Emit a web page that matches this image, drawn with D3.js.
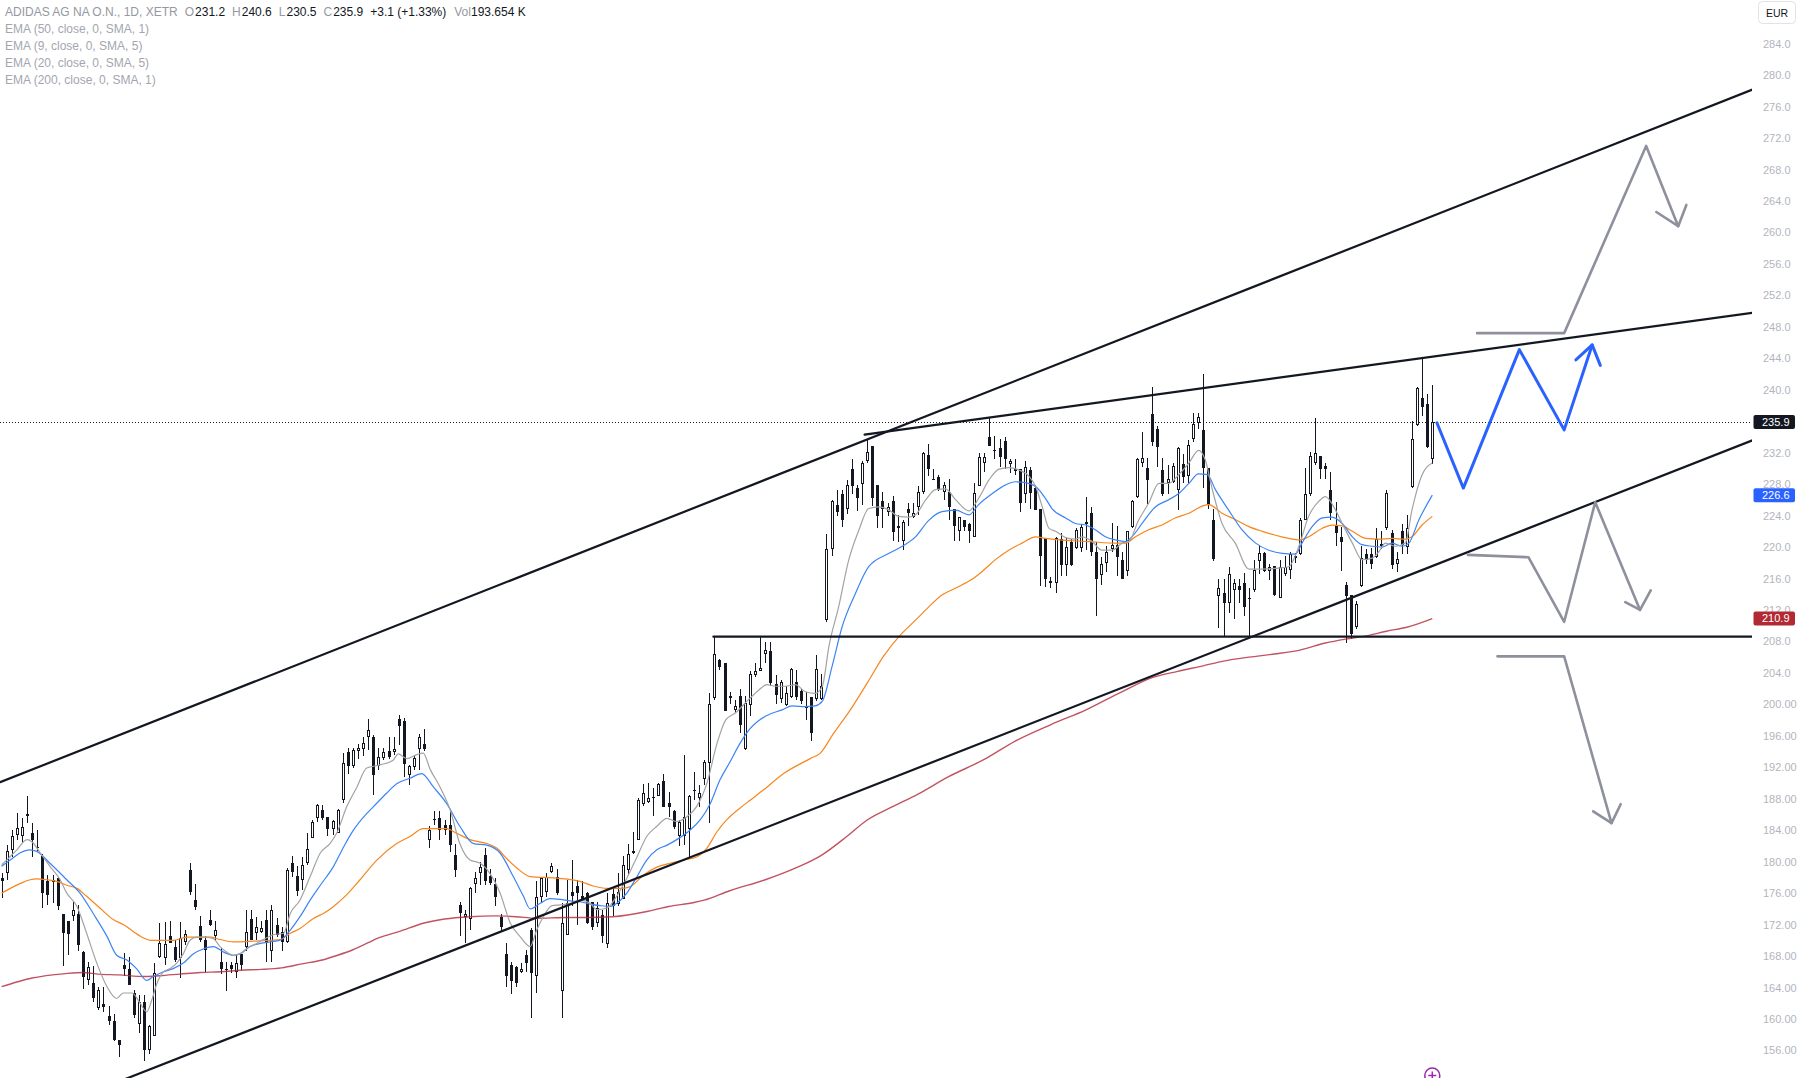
<!DOCTYPE html>
<html><head><meta charset="utf-8">
<script src="https://cdn.jsdelivr.net/npm/d3@7"></script>
<style>
html,body{margin:0;padding:0;background:#fff;}
svg{display:block;}
text{font-family:"Liberation Sans",Arial,sans-serif;}
</style></head><body>
<svg id="chart" width="1802" height="1078"></svg>
<script>
// ---------- DATA ----------
// daily candles: [open, high, low, close]
const candles = [
[177.9,178.6,175.4,177.6],[178.5,182.1,177.7,181.3],[181.5,184.0,180.6,183.3],[183.4,186.2,182.8,184.3],[183.2,185.5,182.5,184.4],
[186.0,188.3,184.9,185.8],[183.7,184.9,180.6,182.7],[181.9,184.0,181.3,181.8],[180.7,181.0,174.1,176.0],[177.5,178.3,174.5,175.8],
[177.4,178.3,174.7,177.7],[177.9,178.0,173.9,174.3],[173.3,173.4,166.7,170.9],[172.4,172.5,168.1,170.8],[173.1,174.9,172.4,173.9],
[173.4,174.5,168.6,169.4],[168.5,168.6,163.8,165.3],[165.0,167.3,164.3,166.6],[164.6,166.7,162.2,162.6],[161.4,164.1,161.2,163.7],
[161.9,164.1,160.9,161.5],[160.4,161.6,159.2,159.7],[159.8,160.6,157.2,157.3],[157.3,157.3,155.1,156.7],[166.9,168.4,165.4,166.4],
[166.4,167.9,164.3,164.3],[163.3,163.7,160.1,160.5],[159.4,163.0,158.2,162.1],[162.2,163.0,154.6,156.1],[156.1,159.2,155.6,159.1],
[157.8,167.1,157.8,165.9],[167.9,172.2,167.7,169.7],[167.7,172.3,166.9,169.5],[170.5,172.4,169.6,169.7],[169.2,170.1,167.3,167.5],
[167.8,172.3,165.2,170.3],[169.8,171.3,169.4,170.8],[178.9,179.8,175.8,176.1],[175.1,177.1,173.9,174.2],[171.8,173.1,169.8,170.0],
[170.0,170.5,166.0,168.8],[172.6,173.9,171.8,171.9],[170.5,172.5,170.1,171.3],[167.2,169.0,165.7,166.3],[166.3,167.3,163.5,166.2],
[166.9,167.3,165.8,166.3],[166.0,168.3,165.2,167.1],[168.2,168.2,166.2,166.9],[169.2,173.9,168.6,171.1],[172.7,173.8,170.0,170.1],
[170.9,173.0,170.0,171.7],[171.1,172.5,170.9,171.6],[172.6,173.9,167.3,169.6],[168.6,174.5,167.3,173.8],[172.0,172.8,170.4,170.7],
[171.0,171.7,168.6,169.8],[169.8,179.2,169.6,178.9],[179.8,180.7,178.1,178.7],[178.2,179.4,175.6,176.3],[177.7,180.6,176.4,179.6],
[179.8,183.6,179.6,181.6],[183.0,185.3,183.0,185.0],[185.6,187.3,185.1,187.2],[186.6,187.2,185.3,185.6],[185.7,185.7,183.3,184.2],
[184.2,185.3,183.4,185.2],[183.7,186.7,183.6,186.6],[187.8,193.8,187.4,192.6],[193.9,194.4,191.1,192.1],[192.2,194.5,191.9,194.2],
[194.1,195.0,193.0,194.5],[194.3,195.8,193.4,195.1],[195.8,198.2,194.2,196.8],[195.8,196.1,188.5,191.0],[192.2,194.4,191.7,193.3],
[193.2,194.4,192.9,193.9],[194.1,195.9,193.1,193.3],[193.9,195.9,193.6,194.3],[198.2,198.6,194.8,197.2],[197.9,198.3,190.8,192.4],
[191.0,192.3,189.8,192.1],[192.0,193.6,191.7,193.2],[194.3,196.2,191.7,195.8],[195.0,196.9,194.1,194.3],[182.8,184.5,181.7,184.0],
[185.4,186.4,184.7,185.3],[185.5,186.4,182.8,184.0],[184.7,185.3,183.4,184.0],[184.7,186.4,181.2,182.1],[180.8,182.3,178.0,179.0],
[174.5,174.9,170.5,173.5],[173.0,173.9,169.6,173.3],[172.7,176.8,171.3,176.6],[177.1,178.7,176.0,177.9],[178.5,180.0,177.0,179.3],
[180.8,181.7,177.0,177.5],[178.2,179.1,177.0,177.3],[177.2,177.9,174.4,175.5],[173.0,173.4,171.1,171.7],[168.3,169.6,164.0,165.4],
[166.9,167.3,163.2,164.8],[166.6,166.7,164.0,164.6],[166.0,167.1,165.8,166.4],[168.1,168.8,166.0,167.1],[171.3,171.5,160.1,165.9],
[165.4,177.5,163.3,175.5],[175.5,178.1,174.7,177.9],[176.2,178.5,175.5,178.0],[178.7,179.8,178.5,179.5],[178.0,179.1,175.8,176.0],
[163.5,174.7,160.1,172.2],[170.7,177.7,170.7,174.8],[176.1,180.2,174.3,175.6],[176.9,177.7,171.9,176.0],[175.6,177.6,175.0,175.2],
[176.0,176.1,172.1,172.2],[174.9,174.9,171.3,171.7],[172.2,174.9,171.7,174.1],[173.2,173.9,169.6,170.5],[169.5,176.0,169.0,174.7],
[175.9,176.7,173.1,174.3],[174.6,178.5,174.4,176.2],[175.3,180.7,175.2,179.6],[179.0,182.3,178.3,181.0],[181.1,183.8,181.0,181.4],
[182.8,188.1,182.8,187.8],[187.3,189.9,187.1,188.7],[187.6,190.0,187.4,188.1],[188.2,189.4,185.8,188.1],[188.4,190.0,188.3,189.9],
[190.3,191.2,186.9,186.9],[187.5,188.9,185.7,186.9],[186.4,186.6,184.2,184.4],[183.2,185.3,182.0,185.0],[183.3,193.6,182.1,185.7],
[184.2,188.5,180.6,188.3],[189.1,191.4,187.8,189.0],[188.1,189.7,187.0,188.7],[190.5,192.9,189.7,192.7],[192.6,201.4,184.9,200.0],
[200.8,208.7,200.5,206.4],[205.7,205.8,204.4,204.8],[205.2,205.2,199.1,199.1],[201.1,201.6,200.1,200.8],[199.3,200.6,198.9,199.8],
[201.1,201.9,196.4,197.4],[194.3,201.0,194.2,200.2],[199.9,204.2,198.5,203.9],[203.7,205.3,203.5,204.3],[204.3,208.6,204.3,204.6],
[206.4,207.9,205.2,206.9],[206.8,207.9,202.3,202.7],[202.6,203.7,200.1,201.2],[200.7,203.1,200.2,202.9],[199.9,202.3,199.8,201.5],
[200.9,204.6,200.8,204.5],[202.9,204.4,200.6,200.9],[201.7,201.9,200.1,200.4],[199.7,201.6,198.0,199.5],[200.9,200.9,195.4,196.3],
[200.7,206.3,200.4,204.5],[200.7,203.9,200.6,202.3],[210.7,221.7,210.5,219.8],[219.8,226.0,218.9,225.8],[225.4,227.3,223.9,224.5],
[226.8,227.3,222.6,223.5],[224.9,228.5,224.2,227.9],[229.9,231.2,226.8,227.7],[227.5,227.9,224.6,226.3],[228.0,230.9,225.4,230.7],
[231.0,233.8,230.7,232.1],[232.8,232.9,225.2,226.3],[227.9,227.9,222.4,223.9],[225.9,227.0,222.4,224.9],[224.5,225.6,223.9,225.1],
[225.9,226.5,220.8,221.9],[222.7,224.1,220.7,222.4],[220.8,223.4,219.6,223.2],[224.9,225.6,222.7,224.3],[223.8,225.6,223.7,224.3],
[225.1,227.8,224.1,227.0],[227.0,232.1,226.8,232.0],[231.7,233.1,229.0,229.9],[228.7,229.9,228.5,228.6],[228.9,229.2,227.1,227.3],
[227.0,228.3,226.0,227.9],[227.0,228.7,223.5,225.1],[224.9,224.9,220.8,222.7],[222.0,223.8,220.8,223.8],[223.5,223.5,222.0,222.6],
[222.9,223.0,220.5,222.1],[221.3,228.2,221.3,226.9],[227.8,231.9,227.7,231.4],[230.7,232.0,229.6,231.4],[234.0,236.4,232.8,232.8],
[232.4,234.1,231.2,232.3],[232.6,233.8,230.2,231.5],[233.5,234.0,229.9,231.2],[230.6,231.2,229.4,230.9],[229.9,231.2,229.2,229.7],
[229.9,229.9,224.4,225.6],[226.8,230.9,225.6,230.2],[229.8,230.2,224.8,226.9],[227.5,227.9,224.7,224.7],[224.8,224.8,215.1,218.9],
[221.1,221.1,214.9,215.9],[215.7,216.2,214.8,215.4],[215.4,221.3,214.2,221.1],[221.0,221.8,216.3,217.7],[217.7,221.2,216.3,220.0],
[220.7,221.0,217.6,217.7],[219.9,222.4,219.7,222.2],[219.9,222.9,219.4,222.5],[223.2,226.4,219.6,222.9],[224.3,225.1,218.8,219.4],
[219.4,220.7,211.2,215.9],[216.5,218.7,215.2,217.9],[218.0,220.1,216.8,219.4],[219.8,223.0,219.4,220.3],[220.3,222.7,216.3,218.7],
[218.4,219.4,215.9,216.0],[216.9,222.0,216.3,222.0],[222.6,226.0,222.4,225.8],[226.4,231.3,226.3,231.2],[230.7,234.6,230.2,231.3],
[230.0,231.3,225.5,228.5],[236.9,240.4,232.8,233.4],[235.0,235.4,230.2,232.7],[229.8,231.3,226.5,226.8],[228.2,230.4,226.8,228.6],
[228.3,230.7,228.1,230.3],[227.3,232.7,224.7,232.6],[230.6,231.8,228.2,228.9],[229.0,233.6,228.1,233.0],[233.7,237.1,233.4,235.7],
[235.8,237.1,235.0,236.5],[234.9,242.0,227.5,230.0],[230.0,230.0,224.8,225.4],[223.5,224.9,218.2,218.5],[213.8,215.9,209.7,214.8],
[214.1,215.9,208.6,212.9],[212.9,217.4,211.6,216.6],[214.6,216.0,210.8,215.4],[215.1,216.0,212.9,214.6],[215.4,216.7,211.2,212.4],
[213.5,214.8,208.7,213.4],[214.6,218.4,214.3,217.1],[218.2,220.3,216.6,219.3],[219.3,219.4,216.8,216.9],[217.0,217.9,215.8,217.4],
[217.6,217.6,213.8,213.9],[213.5,218.3,213.5,217.5],[216.6,218.8,216.3,217.4],[217.1,219.4,215.9,219.1],[218.6,219.3,218.0,218.9],
[219.1,223.7,219.0,223.5],[223.5,230.0,223.4,226.8],[226.8,232.1,226.5,231.6],[230.7,236.4,230.4,231.9],[231.6,231.6,228.7,229.9],
[230.3,230.7,228.7,229.9],[227.3,229.5,223.5,224.3],[222.8,225.7,220.1,221.8],[221.3,222.6,217.0,220.6],[215.2,215.6,207.8,213.8],
[213.9,213.9,208.3,208.9],[209.8,213.1,209.6,212.8],[215.1,220.1,214.9,218.6],[219.1,219.7,217.9,218.3],[219.1,219.9,217.2,217.9],
[218.7,222.4,218.6,221.0],[220.4,222.0,219.7,220.1],[222.4,227.3,222.2,226.9],[221.8,222.2,217.2,217.7],[217.9,219.4,216.8,218.5],
[222.1,222.9,219.1,220.3],[220.0,224.1,219.1,222.4],[227.6,236.0,227.5,233.7],[235.5,240.4,235.4,240.2],[238.9,244.0,236.6,237.8],
[238.2,239.5,232.6,232.7],[231.2,240.6,230.5,235.9]
];

// indicator lines: [bar index, value]
const ema9 = [[0,179.6],[1,180.2],[3,181.5],[5,182.8],[6,182.5],[7.6,181.1],[9.5,179.4],[11.5,177.7],[12.8,176.0],[14.8,174.3],[16.7,170.9],[18.7,167.1],[20.7,164.1],[22.6,162.6],[23.9,163.3],[25.6,163.3],[27.2,162.0],[28.5,160.9],[29.5,162.4],[30.5,164.5],[31.8,166.0],[33.1,166.4],[34.4,167.1],[35.7,168.3],[37,170.0],[38.3,170.4],[40.3,170.4],[41.6,170.2],[42.9,169.2],[44.2,168.5],[45.5,168.1],[46.9,168.3],[48.2,169.0],[49.5,169.4],[51.4,170.1],[53.4,170.7],[55.4,170.9],[56.7,173.4],[58.6,175.1],[60.6,178.1],[62.6,181.1],[64.5,182.3],[65.8,183.6],[67.8,187.0],[69.8,189.5],[71.7,191.9],[74.3,192.3],[76.9,192.9],[77.9,193.7],[79.6,193.1],[81.5,193.6],[82.8,193.8],[84.2,191.7],[86.1,189.5],[88.1,186.6],[90,182.3],[92,180.2],[94,179.8],[95.9,178.5],[97.9,176.0],[99.9,172.2],[101.8,170.5],[103.8,169.2],[105.1,171.3],[106.4,173.0],[108.1,174.4],[109.7,174.5],[111.7,174.7],[113.6,175.1],[115.6,174.7],[116.9,173.9],[118.9,174.1],[120.8,175.6],[122.8,177.9],[124.8,180.6],[126.7,183.2],[128.7,184.5],[130.7,185.5],[132.6,185.1],[134.6,185.7],[136.5,187.0],[138.5,189.9],[140.5,195.0],[142.2,198.0],[144.1,198.9],[146.7,200.6],[148.7,201.8],[150.3,202.5],[152,202.3],[153.9,202.3],[155.9,202.5],[157.9,201.6],[159.8,201.4],[161.2,202.3],[162.5,207.4],[164.4,212.4],[166.4,218.4],[168.4,222.2],[170.3,224.9],[172.3,225.1],[174.3,224.7],[176.2,223.9],[178.2,223.8],[179.5,224.1],[181.5,226.0],[183.4,227.3],[185.4,227.4],[187.4,226.0],[190,224.6],[191.9,226.2],[193.9,228.5],[195.9,229.9],[197.8,230.1],[199.8,229.8],[201.8,229.0],[203.1,227.7],[204.4,225.1],[205.7,222.4],[207,222.0],[209,221.2],[210.9,221.0],[212.2,221.3],[214.2,220.7],[216.1,219.6],[218.1,219.6],[220.1,220.5],[221.4,220.7],[223.3,223.4],[225.3,225.6],[227.3,228.1],[229.2,228.1],[231.2,229.2],[233.2,230.7],[235.1,232.3],[236.4,231.1],[237.8,227.3],[239.7,223.0],[242.3,220.5],[245,217.2],[247.6,217.2],[250.2,217.3],[252.8,217.5],[254.8,220.1],[256.7,223.9],[258.7,225.8],[260,226.4],[262,224.7],[263.3,223.0],[265.3,220.5],[267.2,218.4],[269.2,218.6],[270.5,219.4],[271.8,220.5],[273.8,220.1],[275.7,220.5],[277,224.7],[279,229.2],[281,230.7]];

const ema20 = [[0,179.4],[1.7,180.2],[3.6,181.1],[5.6,181.5],[6.9,181.3],[9.5,179.8],[12.8,177.7],[15.4,176.0],[18,173.4],[20.7,170.5],[22.6,168.1],[24.6,167.5],[26.5,166.4],[28.5,164.9],[29.8,165.4],[31.8,166.0],[33.7,166.4],[35.7,167.1],[37.7,168.3],[39.6,168.9],[41.6,169.2],[43.6,168.5],[45.5,168.1],[46.9,168.3],[48.8,169.2],[50.8,169.6],[52.7,169.8],[54.7,170.0],[56.7,171.3],[58.6,173.0],[60.6,175.1],[62.6,177.0],[65.2,179.4],[67.2,181.9],[69.1,184.0],[71.7,186.1],[73.5,187.3],[75.6,188.7],[77.6,189.9],[80.2,190.6],[82.5,191.2],[84.8,189.5],[87.4,187.4],[90,184.5],[92.7,182.3],[95.3,182.1],[97.9,181.1],[100.5,178.1],[102.5,175.6],[103.8,174.0],[105.8,174.7],[107.7,175.3],[109.7,175.2],[111.7,175.0],[113.6,174.9],[115.6,174.6],[117.6,174.4],[119.5,174.3],[120.8,174.7],[122.8,176.0],[124.8,178.1],[126.7,180.2],[128.7,181.5],[130.7,182.1],[132.6,182.8],[135.2,184.0],[137.2,185.3],[139.2,187.4],[141.1,190.4],[143,192.6],[145,195.0],[147,196.9],[150,198.5],[153.3,199.3],[155.3,199.8],[157.9,199.7],[159.8,199.8],[161.2,200.4],[163.1,204.8],[165.1,209.9],[167.7,214.1],[170.3,217.5],[174.3,219.2],[176.9,220.1],[179.5,221.3],[182.1,223.4],[184.7,224.5],[187.4,224.7],[190,224.1],[191.9,225.4],[194.6,226.8],[197.2,227.9],[199.1,228.3],[201.1,228.2],[203.1,227.7],[205,226.2],[206.3,224.9],[209,223.7],[210.9,223.0],[212.9,222.8],[214.8,222.2],[216.8,221.3],[218.8,220.9],[220.7,220.7],[222,221.3],[224,223.0],[226.6,225.1],[229.2,226.0],[231.2,226.8],[233.2,228.1],[235.1,229.3],[236.8,229.2],[238.4,227.3],[241,224.7],[243.6,222.2],[246.3,220.5],[248.9,219.6],[251.5,219.2],[254.1,219.1],[255.4,220.5],[257.4,222.6],[259.4,223.7],[261.3,223.8],[263.3,223.0],[265.3,221.3],[267.2,220.3],[269.2,220.1],[271.2,220.0],[273.1,220.5],[275.1,220.1],[276.4,220.5],[278.4,223.5],[281,226.6]];

const ema50 = [[0,176.0],[1.7,176.6],[3.6,177.2],[5.6,177.7],[6.9,177.8],[8.9,177.7],[10.8,177.5],[12.8,177.0],[14.8,176.6],[16.7,175.6],[19.3,174.1],[22,172.6],[23.9,172.0],[25.9,171.1],[27.9,170.3],[29.2,170.0],[33.7,170.0],[36.4,170.4],[41,170.4],[42.9,170.1],[45.5,169.8],[49.5,169.9],[54.7,170.1],[56.7,170.9],[58.6,171.5],[61.3,172.8],[63.2,173.4],[65.2,174.3],[67.8,175.8],[70.4,177.7],[73.7,180.2],[77.6,182.3],[80.2,183.2],[82.8,184.2],[87.4,184.2],[89.4,183.6],[92,182.8],[95.3,182.3],[97.3,181.7],[99.2,180.4],[101.2,179.2],[103.8,178.1],[109,177.9],[113.6,177.5],[116.2,176.9],[118.9,176.6],[121.5,176.6],[123.4,176.8],[126.1,178.3],[128.7,179.3],[131.3,179.8],[133.9,180.2],[136.5,180.6],[138.5,181.7],[140.5,183.8],[142.4,185.3],[145,186.8],[147,187.8],[149.6,189.1],[153.6,191.2],[158.8,193.1],[160.8,193.8],[163.4,196.3],[166.7,199.3],[170,202.7],[173.2,206.1],[176.5,208.8],[179.5,210.7],[182.1,212.4],[184.7,213.9],[187.4,214.8],[190.6,215.9],[192.6,216.9],[195.2,218.4],[197.8,219.6],[200.4,220.5],[203.1,221.3],[205,221.1],[210.3,220.8],[213.5,220.7],[218.8,220.5],[220.7,220.5],[222.7,221.3],[225.3,222.2],[227.9,222.8],[230.5,223.7],[233.2,224.3],[235.8,225.2],[237.1,225.4],[239.7,224.3],[242.3,223.5],[245,222.6],[247.6,222.0],[250.2,221.5],[252.8,221.1],[254.8,220.9],[256.7,221.3],[259.4,222.4],[261.3,222.8],[263.3,222.7],[265.3,222.0],[267.9,221.1],[270.5,221.0],[273.1,221.1],[275.7,221.0],[277,221.3],[279,222.8],[281,223.9]];

const ema200 = [[0,164.1],[3,164.7],[6,165.2],[10,165.6],[13,165.8],[16,165.9],[19,165.7],[23,165.6],[28,165.4],[31,165.5],[35,165.7],[39,165.9],[43,166.0],[47,166.2],[51,166.3],[55,166.5],[59,167.0],[63,167.5],[66,168.1],[69,168.8],[72,169.7],[74,170.3],[78,171.1],[83,172.2],[87,172.7],[92,173.0],[97,173.1],[101,173.0],[105,172.8],[111,172.9],[115,172.9],[120,173.0],[127,173.7],[131,174.3],[136,174.8],[138,175.1],[143,176.3],[150,177.7],[156,179.2],[161,180.8],[166,183.2],[170,185.3],[175,187.0],[180,188.6],[186,190.8],[193,193.0],[199,195.3],[206,197.4],[213,199.3],[220,201.6],[226,203.4],[231,204.2],[236,204.9],[240,205.5],[245,206.0],[250,206.4],[255,206.9],[260,207.8],[264,208.3],[268,208.7],[272,209.3],[276,209.8],[281,210.9]];

// price axis
const tickValues = [284,280,276,272,268,264,260,256,252,248,244,240,236,232,228,224,220,216,212,208,204,200,196,192,188,184,180,176,172,168,164,160,156];
const tickLabels = ["284.0","280.0","276.0","272.0","268.0","264.0","260.0","256.0","252.0","248.0","244.0","240.0","236.0","232.0","228.0","224.0","220.0","216.0","212.0","208.0","204.0","200.00","196.00","192.00","188.00","184.00","180.00","176.00","172.00","168.00","164.00","160.00","156.00"];
const badgeValues = [235.9, 226.6, 210.9];
const badgeLabels = ["235.9", "226.6", "210.9"];

// hand-drawn lines: [bar index, price]
const channelUpper = [[-0.3,190.1],[344,278.2]];
const channelLower = [[21.3,151.6],[344,233.6]];
const supportLine = [[139.8,208.6],[344,208.6]];
const resistanceLine = [[169.5,234.3],[344,249.8]];
const bluePath = [[281.9,235.8],[287.1,227.5],[298.1,245.1],[306.9,234.9],[312.4,245.7]];
const blueHead = [[309.2,243.8],[312.4,245.7],[314.0,243.1]];
const grayUpPath = [[289.8,247.2],[306.9,247.2],[323.0,271.0],[329.3,260.8]];
const grayUpHead = [[325.0,262.6],[329.3,260.8],[330.9,263.5]];
const grayMidPath = [[288.0,219.0],[299.9,218.7],[306.9,210.5],[313.0,225.7],[321.8,212.0]];
const grayMidHead = [[318.9,213.0],[321.8,212.0],[323.9,214.5]];
const grayDownPath = [[293.8,206.1],[306.9,206.1],[316.2,184.9]];
const grayDownHead = [[312.6,186.4],[316.2,184.9],[318.0,187.3]];

// legend
const legendTitle = "ADIDAS AG NA O.N., 1D, XETR";
const legendFields = [["O","231.2"],["H","240.6"],["L","230.5"],["C","235.9"]];
const legendChange = "+3.1 (+1.33%)";
const legendVol = ["Vol","193.654 K"];
const indicatorLabels = ["EMA (50, close, 0, SMA, 1)","EMA (9, close, 0, SMA, 5)","EMA (20, close, 0, SMA, 5)","EMA (200, close, 0, SMA, 1)"];

// ---------- DRAW ----------
const W = 1802, H = 1078, plotRight = 1752;
const svg = d3.select("#chart");
svg.append("rect").attr("width", W).attr("height", H).attr("fill", "#fff");

const x = d3.scaleLinear().domain([0, candles.length - 1]).range([1.6, 1432.3]);
const y = d3.scaleLinear().domain([156, 284]).range([1050.4, 43.7]);

svg.append("defs").append("clipPath").attr("id", "plotclip")
  .append("rect").attr("x", 0).attr("y", 0).attr("width", plotRight).attr("height", H);

const plot = svg.append("g").attr("clip-path", "url(#plotclip)");

// last price dotted line
plot.append("line")
  .attr("x1", 0).attr("x2", plotRight)
  .attr("y1", Math.round(y(235.9)) + 0.5).attr("y2", Math.round(y(235.9)) + 0.5)
  .attr("stroke", "#131722").attr("stroke-width", 1).attr("stroke-dasharray", "1,2");

// candles
const cg = plot.append("g").attr("shape-rendering", "crispEdges");
const bars = cg.selectAll("g.c").data(candles).join("g").attr("class", "c");
bars.append("line")
  .attr("x1", (d, i) => Math.round(x(i)) + 0.5).attr("x2", (d, i) => Math.round(x(i)) + 0.5)
  .attr("y1", d => y(d[1])).attr("y2", d => y(d[2]))
  .attr("stroke", "#131722").attr("stroke-width", 1);
bars.append("rect")
  .attr("x", (d, i) => d[3] >= d[0] ? Math.round(x(i)) - 0.5 : Math.round(x(i)) - 1)
  .attr("width", d => d[3] >= d[0] ? 2 : 3)
  .attr("y", d => y(Math.max(d[0], d[3])) + (d[3] >= d[0] ? 0.5 : 0))
  .attr("height", d => Math.max(d[3] >= d[0] ? 0.8 : 1, Math.abs(y(d[0]) - y(d[3])) - (d[3] >= d[0] ? 1 : 0)))
  .attr("fill", d => d[3] >= d[0] ? "#ffffff" : "#131722")
  .attr("stroke", d => d[3] >= d[0] ? "#131722" : "none")
  .attr("stroke-width", 1);

// moving averages
const maLine = d3.line().x(d => x(d[0])).y(d => y(d[1])).curve(d3.curveMonotoneX);
const maSeries = [
  {data: ema200, color: "#b2283a", width: 1.4, opacity: 0.8},
  {data: ema50, color: "#f7861c", width: 1.2, opacity: 1},
  {data: ema20, color: "#3d84f5", width: 1.2, opacity: 1},
  {data: ema9, color: "#a3a3a3", width: 1.2, opacity: 1}
];
plot.selectAll("path.ma").data(maSeries).join("path").attr("class", "ma")
  .attr("d", d => maLine(d.data)).attr("fill", "none")
  .attr("stroke", d => d.color).attr("stroke-width", d => d.width).attr("stroke-opacity", d => d.opacity);

// drawings
const drawLine = d3.line().x(d => x(d[0])).y(d => y(d[1]));
const drawings = [
  {data: channelUpper, color: "#131722", width: 2.2},
  {data: channelLower, color: "#131722", width: 2.2},
  {data: supportLine, color: "#131722", width: 2.2},
  {data: resistanceLine, color: "#131722", width: 2.2},
  {data: grayUpPath, color: "#8e919d", width: 2.6},
  {data: grayUpHead, color: "#8e919d", width: 2.6},
  {data: grayMidPath, color: "#8e919d", width: 2.6},
  {data: grayMidHead, color: "#8e919d", width: 2.6},
  {data: grayDownPath, color: "#8e919d", width: 2.6},
  {data: grayDownHead, color: "#8e919d", width: 2.6},
  {data: bluePath, color: "#2962ff", width: 3},
  {data: blueHead, color: "#2962ff", width: 3}
];
plot.selectAll("path.dr").data(drawings).join("path").attr("class", "dr")
  .attr("d", d => drawLine(d.data)).attr("fill", "none")
  .attr("stroke", d => d.color).attr("stroke-width", d => d.width)
  .attr("stroke-linejoin", "round").attr("stroke-linecap", "round");

// event marker at the bottom
const mk = plot.append("g").attr("transform", `translate(${x(281)},1075.5)`);
mk.append("circle").attr("r", 7.5).attr("fill", "#fff").attr("stroke", "#9c27b0").attr("stroke-width", 1.5);
mk.append("line").attr("x1", 0).attr("x2", 0).attr("y1", -4).attr("y2", 4).attr("stroke", "#9c27b0").attr("stroke-width", 1.5);
mk.append("line").attr("x1", -4).attr("x2", 4).attr("y1", 0).attr("y2", 0).attr("stroke", "#9c27b0").attr("stroke-width", 1.5);

// price axis
const axis = d3.axisRight(y).tickValues(tickValues)
  .tickFormat((d, i) => tickLabels[i]).tickSize(0).tickPadding(0);
const ag = svg.append("g").attr("transform", "translate(1763,0)").call(axis);
ag.select(".domain").remove();
ag.selectAll("text").attr("fill", "#b2b5be").attr("font-size", 11)
  .attr("font-family", "'Liberation Sans',Arial,sans-serif");

// price badges
const badgeColors = ["#131722", "#2962ff", "#b22833"];
const bg = svg.selectAll("g.badge").data(badgeValues).join("g").attr("class", "badge")
  .attr("transform", d => `translate(0,${y(d)})`);
bg.append("rect").attr("x", 1753.5).attr("y", -7).attr("width", 41.5).attr("height", 14).attr("rx", 2)
  .attr("fill", (d, i) => badgeColors[i]);
bg.append("text").attr("x", 1762).attr("y", 0).attr("dy", "0.35em")
  .attr("fill", "#fff").attr("font-size", 11).text((d, i) => badgeLabels[i]);

// currency button
svg.append("rect").attr("x", 1758.5).attr("y", 1.5).attr("width", 37).attr("height", 22).attr("rx", 4)
  .attr("fill", "#fff").attr("stroke", "#e0e3eb");
svg.append("text").attr("x", 1777).attr("y", 16.5).attr("text-anchor", "middle")
  .attr("font-size", 10.5).attr("fill", "#131722").text("EUR");

// legend
const lg = svg.append("g").attr("font-size", 12);
const t1 = lg.append("text").attr("x", 5).attr("y", 16);
t1.append("tspan").attr("fill", "#9598a1").text(legendTitle);
legendFields.forEach((f, i) => {
  t1.append("tspan").attr("fill", "#9598a1").attr("dx", i === 0 ? 7 : 7).text(f[0]);
  t1.append("tspan").attr("fill", "#131722").attr("dx", 1).text(f[1]);
});
t1.append("tspan").attr("fill", "#131722").attr("dx", 7).text(legendChange);
t1.append("tspan").attr("fill", "#9598a1").attr("dx", 8).text(legendVol[0]);
t1.append("tspan").attr("fill", "#131722").attr("dx", 0).text(legendVol[1]);
lg.selectAll("text.ind").data(indicatorLabels).join("text").attr("class", "ind")
  .attr("x", 5).attr("y", (d, i) => 32.5 + i * 17.2)
  .attr("fill", "#a3a6af").text(d => d);
</script>
</body></html>
